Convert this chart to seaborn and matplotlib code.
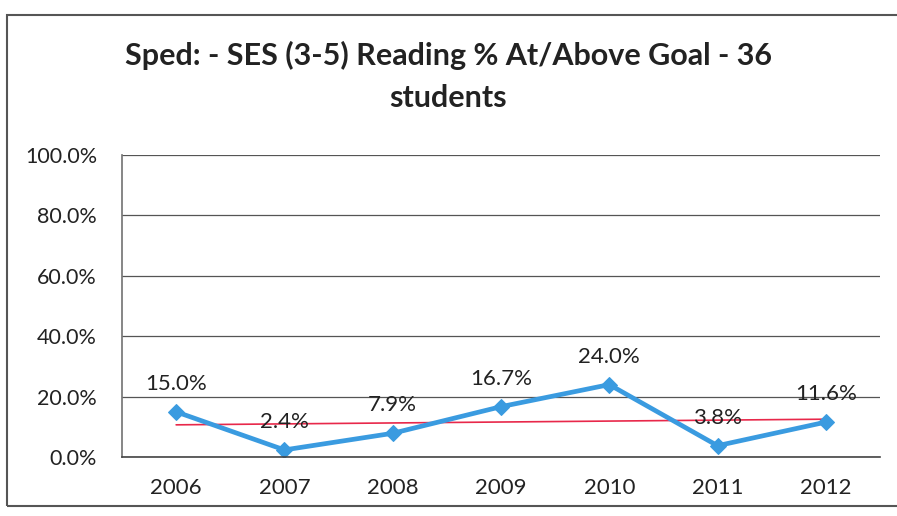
import matplotlib
matplotlib.use('Agg')
import matplotlib.pyplot as plt
import numpy as np
import pandas as pd
import seaborn as sns
from matplotlib.patches import Rectangle

# chart data
years = ['2006', '2007', '2008', '2009', '2010', '2011', '2012']
pct_at_goal = [15.0, 2.4, 7.9, 16.7, 24.0, 3.8, 11.6]
y_ticks = [0, 20, 40, 60, 80, 100]

sns.set_theme(style='white')
plt.rcParams['font.family'] = ['Lato', 'DejaVu Sans']

df = pd.DataFrame({'year': years, 'pct': pct_at_goal})
df['pos'] = np.arange(len(df))

# linear trend line (like Excel's trendline)
slope, intercept = np.polyfit(df['pos'], df['pct'], 1)
df['trend'] = slope * df['pos'] + intercept

fig = plt.figure(figsize=(8.97, 5.16), dpi=100)
ax = fig.add_axes([0.136, 0.114, 0.845, 0.586])

# outer chart frame
fig.patches.append(Rectangle((0.008, 0.02), 1.2, 0.95, transform=fig.transFigure,
                             fill=False, edgecolor='#555555', linewidth=1.5))

sns.lineplot(data=df, x='pos', y='trend', ax=ax, color='#e8284a', linewidth=1.2)
sns.lineplot(data=df, x='pos', y='pct', ax=ax, color='#3a9be0', linewidth=3.4,
             marker='D', markersize=8.5, markeredgecolor='#3a9be0')

for p, v in zip(df['pos'], df['pct']):
    ax.annotate(f'{v:.1f}%', (p, v), xytext=(0, 13), textcoords='offset points',
                ha='center', va='bottom', fontsize=16, color='#222222')

ax.set_xlim(-0.5, len(years) - 0.5)
ax.set_ylim(0, 100)
ax.set_yticks(y_ticks)
ax.set_yticklabels([f'{t:.1f}%' for t in y_ticks], fontsize=15.5, color='#222222')
ax.set_xticks(df['pos'])
ax.set_xticklabels(years, fontsize=16, color='#222222')
ax.set_xticks(np.arange(-0.5, len(years)), minor=True)
ax.tick_params(axis='x', which='major', length=0, pad=15)
ax.tick_params(axis='x', which='minor', length=6, direction='out', color='#444444', width=1)
ax.tick_params(axis='y', length=0, pad=18)
ax.set_xlabel('')
ax.set_ylabel('')

ax.grid(axis='y', color='#555555', linewidth=0.9)
for side in ['top', 'right']:
    ax.spines[side].set_visible(False)
ax.spines['left'].set_color('#777777')
ax.spines['bottom'].set_color('#444444')
ax.spines['bottom'].set_linewidth(1.2)

fig.text(0.5, 0.893, 'Sped: - SES (3-5) Reading % At/Above Goal - 36', ha='center',
         va='center', fontsize=22, fontweight='bold', color='#222222')
fig.text(0.5, 0.81, 'students', ha='center', va='center', fontsize=22,
         fontweight='bold', color='#222222')

fig.savefig('out.png', dpi=100)
